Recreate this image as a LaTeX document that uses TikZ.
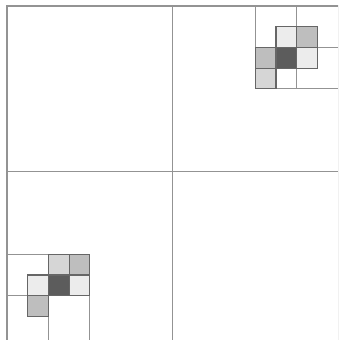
\documentclass[tikz,border=0pt]{standalone}
\usepackage{tikz}
\definecolor{cellLight}{RGB}{236,236,236}
\definecolor{cellSoft}{RGB}{214,214,214}
\definecolor{cellMid}{RGB}{190,190,190}
\definecolor{cellDark}{RGB}{92,92,92}

\begin{document}
\begin{tikzpicture}[x=1cm,y=-1cm]

%---------------------------------------
% Styles
%---------------------------------------
\tikzset{
  gridline/.style={draw=gray!85, line width=1.6pt},
  cell/.style={draw=gray!80!black, line width=1.6pt}
}

\def\Lmax{16}
\def\Lout{16.6}

% page frame (right and bottom edges run off the picture)
\clip (-0.34,-0.29) rectangle (16.0,16.14);

%====================================================
% Level 0 and 1: square and quadrants
%====================================================
\draw[gridline] (0,\Lout) -- (0,0) -- (\Lmax,0) -- (\Lmax,\Lout);
\draw[gridline] (8,0) -- (8,\Lout);
\draw[gridline] (0,8) -- (\Lmax,8);

%====================================================
% Top-right corner: refined cells
%====================================================
\draw[gridline] (12,0) -- (12,4) -- (\Lmax,4);
\draw[gridline] (14,0) -- (14,4);
\draw[gridline] (14,2) -- (\Lmax,2);

\foreach \cx/\cy/\shade in {13/1/cellLight, 14/1/cellMid, 12/2/cellMid,
                            13/2/cellDark, 14/2/cellLight, 12/3/cellSoft}
  \draw[cell, fill=\shade] (\cx,\cy) rectangle ++(1,1);

%====================================================
% Bottom-left corner: refined cells
%====================================================
\draw[gridline] (0,12) -- (4,12) -- (4,\Lout);
\draw[gridline] (2,12) -- (2,\Lout);
\draw[gridline] (0,14) -- (2,14);

\foreach \cx/\cy/\shade in {2/12/cellSoft, 3/12/cellMid, 1/13/cellLight,
                            2/13/cellDark, 3/13/cellLight, 1/14/cellMid}
  \draw[cell, fill=\shade] (\cx,\cy) rectangle ++(1,1);

\end{tikzpicture}
\end{document}
